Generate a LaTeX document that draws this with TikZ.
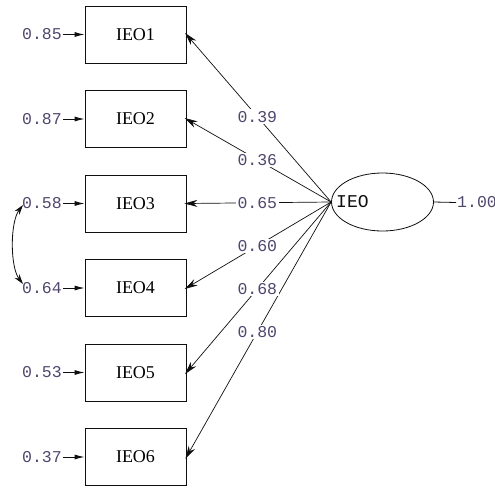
\documentclass[tikz,border=0pt]{standalone}
\usepackage{fontspec}
\setmainfont{Liberation Serif}
\newfontfamily\coefont{Liberation Mono}
\usetikzlibrary{arrows.meta,shapes.geometric}

\definecolor{inkline}{RGB}{15,15,15}
\definecolor{inknum}{RGB}{80,70,110}

\tikzset{
  obsbox/.style={draw=inkline, line width=0.8pt, minimum width=101pt, minimum height=57pt,
    inner sep=0pt, font=\fontsize{18}{20}\selectfont},
  latent/.style={draw=inkline, line width=0.8pt, ellipse, minimum width=102pt,
    minimum height=58pt, inner sep=0pt},
  numtxt/.style={text=inknum, inner sep=1pt, font=\coefont\fontsize{16.5}{17}\selectfont},
  coef/.style={numtxt, fill=white, inner sep=1.5pt},
  load/.style={draw=inkline, line width=0.7pt, -{Stealth[length=13pt,width=7pt]}, shorten >=-2pt},
  errarrow/.style={draw=inkline, line width=0.9pt, -{Latex[length=10pt,width=5pt]}},
  covarrow/.style={draw=inkline, line width=0.8pt, {Stealth[length=10pt,width=6pt]}-{Stealth[length=10pt,width=6pt]}}
}

\begin{document}
\begin{tikzpicture}[x=1pt, y=-1pt]
  \path[use as bounding box] (0,0) rectangle (495,487);
  \clip (0,0) rectangle (495,487);

  % observed indicators
  \node[obsbox] (b1) at (135.5,34.5) {IEO1};
  \node[obsbox] (b2) at (135.5,119) {IEO2};
  \node[obsbox] (b3) at (135.5,203.5) {IEO3};
  \node[obsbox] (b4) at (135.5,288) {IEO4};
  \node[obsbox] (b5) at (135.5,372.5) {IEO5};
  \node[obsbox] (b6) at (135.5,457) {IEO6};

  % error variances
  \node[numtxt, anchor=east] (r1) at (63,34.5) {0.85};
  \node[numtxt, anchor=east] (r2) at (63,119) {0.87};
  \node[numtxt, anchor=east] (r3) at (63,203.5) {0.58};
  \node[numtxt, anchor=east] (r4) at (63,288) {0.64};
  \node[numtxt, anchor=east] (r5) at (63,372.5) {0.53};
  \node[numtxt, anchor=east] (r6) at (63,457) {0.37};
  \foreach \i in {1,...,6} {
    \draw[errarrow] (r\i.east) -- (b\i.west);
  }

  % correlated errors of IEO3 and IEO4
  \coordinate (cv1) at (23,205);
  \coordinate (cv2) at (23,284);
  \draw[covarrow] (cv1) .. controls (10,222) and (10,267) .. (cv2);

  % latent factor
  \node[latent] (e) at (382.5,202) {};
  \node[anchor=west, inner sep=0pt, font=\coefont\fontsize{18}{19}\selectfont, text=inkline]
    (elab) at (336,202) {IEO};
  \node[numtxt, anchor=west] (evar) at (456,202.5) {1.00};
  \draw[draw=inkline, line width=0.8pt] (e.east) -- (evar.west);

  % loadings: lines first, then labels on top
  \foreach \i in {1,...,6} {
    \draw[load] (e.west) -- (b\i.east);
  }
  \path (e.west) -- (b1.east) node[coef, pos=0.51] {0.39};
  \path (e.west) -- (b2.east) node[coef, pos=0.51] {0.36};
  \path (e.west) -- (b3.east) node[coef, pos=0.51] {0.65};
  \path (e.west) -- (b4.east) node[coef, pos=0.51] {0.60};
  \path (e.west) -- (b5.east) node[coef, pos=0.51] {0.68};
  \path (e.west) -- (b6.east) node[coef, pos=0.51] {0.80};
\end{tikzpicture}
\end{document}
